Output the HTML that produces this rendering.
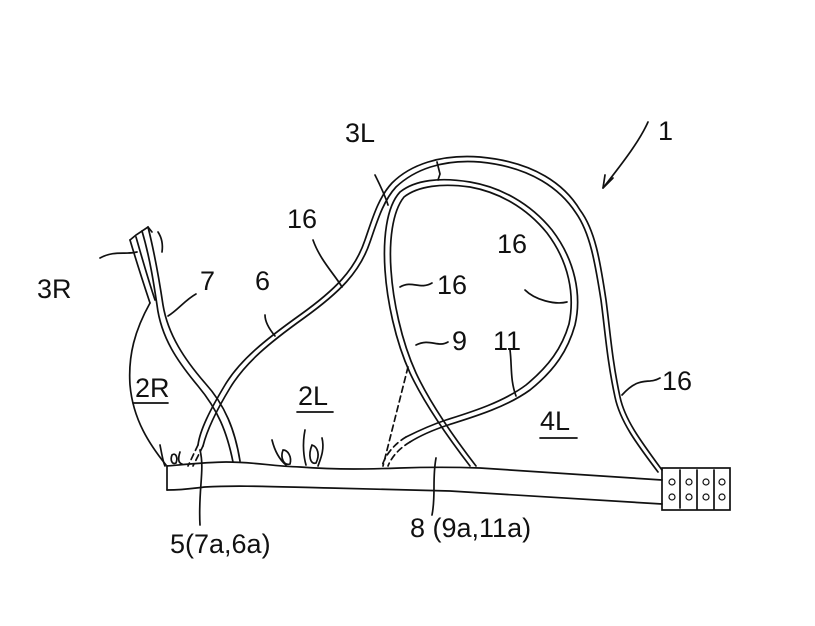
<!DOCTYPE html>
<html><head><style>html,body{margin:0;padding:0;background:#fff}svg{display:block}
text{font-family:"Liberation Sans",sans-serif;font-size:27px;fill:#111}</style></head>
<body>
<svg width="815" height="626" viewBox="0 0 815 626" xmlns="http://www.w3.org/2000/svg">
<g fill="none" stroke="#111" stroke-width="1.7" stroke-linecap="round">
<!-- band -->
<path d="M167,466 C190,464 210,462 226,462 C255,462 270,466 300,467 C340,470 370,469 400,468 C430,467 450,467 480,468 L662,480"/>
<path d="M167,490 C185,490 195,488 205,487 C240,485 280,487 330,488 C370,489 410,490 450,491 L662,504"/>
<path d="M167,466 L167,490"/>
<!-- hook -->
<rect x="662" y="468" width="68" height="42"/>
<path d="M680,470 L680,508 M697,470 L697,509 M714,470 L714,509"/>
<g stroke-width="1.2">
<circle cx="672" cy="482" r="3"/><circle cx="689" cy="482" r="3"/><circle cx="706" cy="482" r="3"/><circle cx="722" cy="482" r="3"/>
<circle cx="672" cy="497" r="3"/><circle cx="689" cy="497" r="3"/><circle cx="706" cy="497" r="3"/><circle cx="722" cy="497" r="3"/>
</g>
<!-- big strap outer edge + line 6 -->
<path d="M662,470 C640,440 625,420 620,397 C612,360 610,330 606,300 C600,260 595,230 580,210 C565,185 535,162 480,157 C440,154 410,165 392,183 C378,198 372,220 365,240 C355,270 335,290 300,315 C265,340 240,360 225,385 C210,410 200,430 198,445"/>
<path d="M658,472 C636,443 620,421 615,397 C607,360 605,330 601,300 C595,262 590,233 576,213 C561,190 532,167 480,162 C442,159 414,170 396,187 C383,201 377,222 370,242 C360,272 340,292 304,318 C269,343 245,363 230,388 C216,411 207,430 203,446"/>
<path d="M198,445 L188,466 M203,446 L193,466" stroke-dasharray="6,4"/>
<!-- strap seam -->
<path d="M437,162 L440,174 L438,180"/>
<!-- inner cup loop -->
<path d="M470,466 C450,440 425,405 410,373 C395,340 387,300 385,270 C383,240 386,207 400,192 C415,180 440,177 470,182 C500,187 530,203 552,230 C575,260 582,295 575,325 C568,350 555,370 530,390 C505,408 470,418 448,425 C430,431 418,437 410,442"/>
<path d="M476,466 C456,440 431,405 416,373 C401,340 393,300 391,270 C389,242 392,212 404,197 C418,186 442,183 470,187 C498,192 526,207 547,233 C569,262 575,295 569,324 C562,348 549,366 526,385 C502,403 468,413 446,420 C428,426 416,432 406,437"/>
<path d="M410,442 C400,448 392,456 388,466 M406,437 C396,443 386,453 382,466" stroke-dasharray="6,4"/>
<path d="M408,367 L383,466" stroke-dasharray="6,4"/>
<!-- 3R strap & line 7 -->
<path d="M130,240 L136,235 L148,227 L152,232"/>
<path d="M130,240 C136,260 144,285 150,303"/>
<path d="M136,237 C142,258 149,282 155,300"/>
<path d="M148,227 C155,255 160,285 163,305 C168,335 185,360 205,383 C225,405 235,430 240,461"/>
<path d="M142,231 C150,258 154,285 157,305 C161,338 178,362 198,386 C218,410 227,432 233,462"/>
<path d="M158,232 C162,238 163,245 162,252"/>
<!-- 2R outline -->
<path d="M150,303 C135,330 128,355 130,385 C133,420 150,445 166,465"/>
<!-- small fold marks -->
<path d="M160,445 C162,455 163,462 165,466 M172,455 C170,460 172,465 176,463 C178,458 176,452 172,455 M180,452 C178,458 178,463 182,464"/>
<path d="M272,440 C275,452 280,460 286,465 M283,450 C280,458 284,466 290,464 C292,457 288,450 283,450 M305,430 C302,445 304,458 306,465 M312,445 C308,455 310,465 316,463 C320,455 318,447 312,445 M322,438 C325,450 320,460 318,466"/>
<!-- leader lines -->
<path d="M375,175 C380,185 385,195 388,205"/>
<path d="M313,240 C320,260 335,275 342,287"/>
<path d="M100,258 C115,250 125,255 137,252"/>
<path d="M196,294 C185,300 178,310 168,316"/>
<path d="M265,315 C265,322 270,330 275,336"/>
<path d="M432,283 C420,290 412,280 400,287"/>
<path d="M448,342 C438,348 430,338 416,345"/>
<path d="M510,350 C512,365 510,380 516,396"/>
<path d="M525,290 C535,300 555,305 567,302"/>
<path d="M660,378 C648,385 640,375 622,395"/>
<path d="M200,450 C205,470 198,490 200,525"/>
<path d="M436,458 C432,480 436,495 432,515"/>
<path d="M648,122 C640,140 625,160 603,188"/>
<path d="M603,188 L605,175 M603,188 L613,178"/>
<!-- underlines -->
<path d="M133,403 L168,403 M297,412 L333,412 M540,438 L577,438"/>
</g>
<text x="658" y="140">1</text>
<text x="345" y="142">3L</text>
<text x="287" y="228">16</text>
<text x="37" y="298">3R</text>
<text x="200" y="290">7</text>
<text x="255" y="290">6</text>
<text x="497" y="253">16</text>
<text x="437" y="294">16</text>
<text x="452" y="350">9</text>
<text x="493" y="350">11</text>
<text x="135" y="397">2R</text>
<text x="298" y="405">2L</text>
<text x="540" y="430">4L</text>
<text x="662" y="390">16</text>
<text x="170" y="553">5(7a,6a)</text>
<text x="410" y="537">8 (9a,11a)</text>
</svg>
</body></html>
